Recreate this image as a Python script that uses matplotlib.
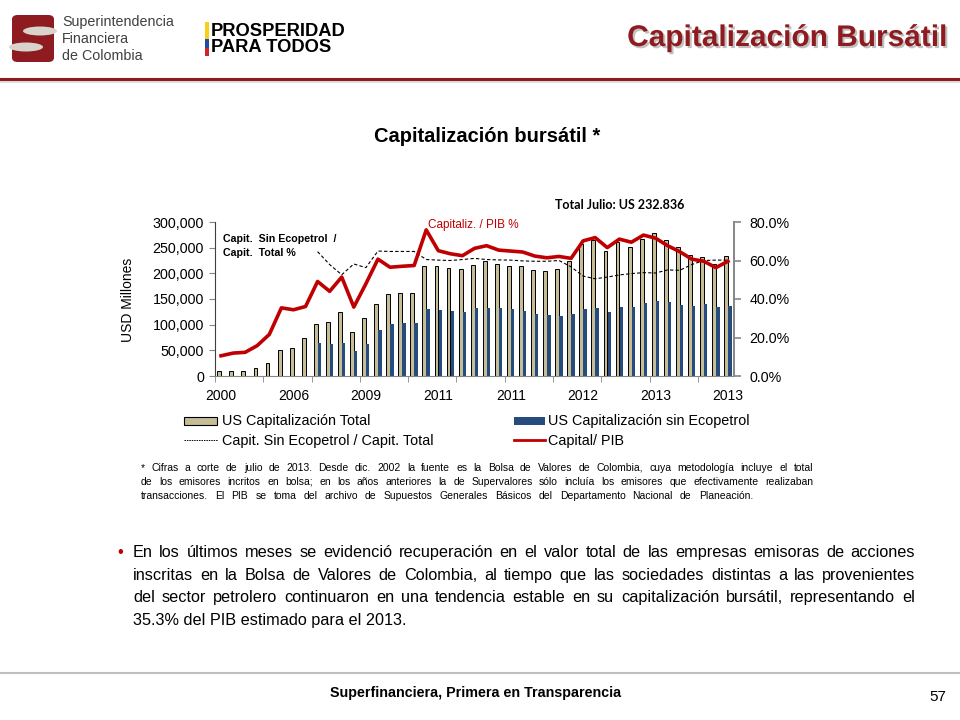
import numpy as np
import matplotlib
matplotlib.use('Agg')
import matplotlib.pyplot as plt
from matplotlib.patches import Rectangle, FancyBboxPatch, Ellipse
from matplotlib.lines import Line2D
import matplotlib.ticker as ticker
import matplotlib.patheffects as pe

#------------------------------------------------------------------------------
# DATA

# US Capitalización Total (USD millones)
cap_total = [10000, 10000, 10000, 15000, 25000, 50000, 55000, 74000, 102000, 106000,
             124000, 86000, 113000, 141000, 160000, 162000, 162000, 214000, 214000, 211000,
             208000, 217000, 225000, 218000, 214000, 214000, 206000, 204000, 208000, 224000,
             258000, 265000, 243000, 261000, 252000, 266000, 278000, 264000, 252000, 235000,
             231000, 218000, 232836]

# US Capitalización sin Ecopetrol (USD millones), no data before 2007
cap_sin_eco = [np.nan] * 8 + [65000, 61700, 64900, 48700, 62300, 90200, 101900, 103800, 103800, 129900,
               128000, 126000, 124700, 133100, 133000, 131800, 129900, 126600, 120800, 118800,
               117500, 120800, 130500, 133000, 124700, 135000, 135000, 141600, 146700, 144700,
               137700, 136400, 140300, 133800, 136400]

# Capit. Sin Ecopetrol / Capit. Total (%)
ratio_sin_eco = [np.nan] * 8 + [64.6, 57.9, 52.6, 58.2, 56.3, 64.9, 64.7, 64.7, 64.7, 60.5,
                 60.2, 60.0, 60.5, 61.1, 60.5, 60.3, 60.2, 59.8, 59.6, 59.6,
                 60.0, 56.7, 51.9, 50.5, 51.4, 52.5, 53.2, 53.7, 53.5, 55.1,
                 54.9, 57.9, 60.0, 60.2, 60.2]

# Capitalización / PIB (%)
cap_pib = [10.5, 11.9, 12.3, 15.8, 21.6, 35.4, 34.4, 36.1, 49.1, 44.0,
           51.4, 35.8, 47.9, 60.7, 56.5, 57.0, 57.4, 75.9, 65.1, 63.5,
           62.5, 66.3, 67.7, 65.4, 64.9, 64.4, 62.3, 61.4, 62.1, 61.1,
           70.2, 71.9, 66.7, 71.1, 69.5, 73.2, 71.6, 67.7, 64.6, 60.7,
           59.6, 56.3, 59.6]

# x tick labels (one every 6 periods)
tick_labels = ['2000', '2006', '2009', '2011', '2011', '2012', '2013', '2013']

bullet_lines = [
    'En los últimos meses se evidenció recuperación en el valor total de las empresas emisoras de acciones',
    'inscritas en la Bolsa de Valores de Colombia, al tiempo que las sociedades distintas a las provenientes',
    'del sector petrolero continuaron en una tendencia estable en su capitalización bursátil, representando el',
    '35.3% del PIB estimado para el 2013.',
]

note_lines = [
    '* Cifras a corte de julio  de 2013. Desde dic. 2002 la fuente es la Bolsa de Valores de Colombia, cuya metodología incluye el total',
    'de los emisores incritos en bolsa; en los años anteriores  la de Supervalores sólo incluía los emisores que efectivamente realizaban',
    'transacciones. El PIB se toma del archivo de Supuestos Generales Básicos del Departamento Nacional de Planeación.',
]

#------------------------------------------------------------------------------
# Colours

beige = '#C4BD97'
blue = '#264C7E'
red = '#C00000'
maroon = '#8E1B1F'
grey_axis = '#868686'

plt.rcParams['font.family'] = ['Liberation Sans', 'DejaVu Sans']

W, H = 960, 720
fig = plt.figure(figsize=(9.6, 7.2), dpi=100)

def fx(x):
    return x / W

def fy(y):
    return 1 - y / H

def ptext(x, y, s, **kw):
    return fig.text(fx(x), fy(y), s, **kw)

renderer = fig.canvas.get_renderer()

def justify(x0, x1, y, line, **kw):
    # spread the words of one line between x0 and x1 (pixels), y = baseline
    words = line.split()
    widths = []
    for w in words:
        t = ptext(0, 0, w, **kw)
        widths.append(t.get_window_extent(renderer).width)
        t.remove()
    gap = (x1 - x0 - sum(widths)) / max(len(words) - 1, 1)
    x = x0
    for w, wd in zip(words, widths):
        ptext(x, y, w, ha='left', va='baseline', **kw)
        x += wd + gap

#------------------------------------------------------------------------------
# HEADER

# Superintendencia logo (rough shape)
fig.patches.append(FancyBboxPatch((fx(12), fy(62)), fx(42), 47 / H, boxstyle='round,pad=0,rounding_size=0.006',
                                  transform=fig.transFigure, fc=maroon, ec='none'))
fig.patches.append(Ellipse((fx(40), fy(31)), fx(34), 9 / H, transform=fig.transFigure, fc='#D8D4CC', ec='none'))
fig.patches.append(Ellipse((fx(26), fy(47)), fx(34), 9 / H, transform=fig.transFigure, fc='#D8D4CC', ec='none'))
ptext(62, 22, 'Superintendencia', fontsize=10.3, color='#404040', va='center')
ptext(62, 39, 'Financiera', fontsize=10.3, color='#404040', va='center')
ptext(62, 56, 'de Colombia', fontsize=10.3, color='#404040', va='center')

# Prosperidad para todos logo
fig.patches.append(Rectangle((fx(205), fy(39)), fx(4), 17 / H, transform=fig.transFigure, fc='#F7D117', ec='none'))
fig.patches.append(Rectangle((fx(205), fy(48)), fx(4), 9 / H, transform=fig.transFigure, fc='#1F4E9C', ec='none'))
fig.patches.append(Rectangle((fx(205), fy(56)), fx(4), 8 / H, transform=fig.transFigure, fc='#D2232A', ec='none'))
ptext(211, 31, 'PROSPERIDAD', fontsize=13.2, fontweight='bold', va='center')
ptext(211, 47, 'PARA TODOS', fontsize=13.2, fontweight='bold', va='center')

# Title with shadow
ptext(948, 38, 'Capitalización Bursátil', fontsize=21.5, fontweight='bold', color=maroon,
      ha='right', va='center',
      path_effects=[pe.withSimplePatchShadow(offset=(1.5, -1.5), shadow_rgbFace='#999999', alpha=0.6)])

fig.add_artist(Line2D([0, 1], [fy(81), fy(81)], color='#DDDDDD', lw=2))
fig.add_artist(Line2D([0, 1], [fy(79), fy(79)], color=maroon, lw=2.2))

#------------------------------------------------------------------------------
# CHART

ptext(487, 137, 'Capitalización bursátil *', fontsize=14.5, fontweight='bold', ha='center', va='center')

ax = fig.add_axes([fx(215), fy(376), fx(734 - 215), (376 - 222) / H])
ax2 = ax.twinx()

x = np.arange(len(cap_total)) + 0.5
ax.bar(x - 0.15, cap_total, 0.32, color=beige, ec='black', lw=0.7, zorder=2)
ax.bar(x + 0.16, cap_sin_eco, 0.28, color=blue, ec='none', zorder=2)

ax2.plot(x, ratio_sin_eco, color='black', lw=0.8, ls=(0, (3, 2)), zorder=3)
ax2.plot(x, cap_pib, color=red, lw=2.6, solid_joinstyle='round', zorder=4)

ax.set_xlim(0, len(cap_total))
ax.set_ylim(0, 300000)
ax2.set_ylim(0, 80)

ax.yaxis.set_major_locator(ticker.MultipleLocator(50000))
ax.yaxis.set_major_formatter(ticker.FuncFormatter(lambda v, p: '{:,.0f}'.format(v)))
ax2.yaxis.set_major_locator(ticker.MultipleLocator(20))
ax2.yaxis.set_major_formatter(ticker.FuncFormatter(lambda v, p: '{:.1f}%'.format(v)))

ax.set_xticks(x[::6])
ax.set_xticklabels(tick_labels)
ax.xaxis.set_minor_locator(ticker.MultipleLocator(4))
ax.tick_params(axis='x', which='major', length=0, labelsize=10, pad=9)
ax.tick_params(axis='x', which='minor', length=4, color=grey_axis, direction='out')
ax.tick_params(axis='y', labelsize=10.3, length=4, color=grey_axis, pad=4)
ax2.tick_params(axis='y', labelsize=10.3, length=5, color=grey_axis, width=1.2, pad=6)

for a in (ax, ax2):
    a.spines['top'].set_visible(False)
    a.patch.set_visible(False)
ax.spines['right'].set_visible(False)
ax.spines['left'].set_color('#404040')
ax.spines['left'].set_linewidth(0.8)
ax.spines['bottom'].set_color(grey_axis)
ax2.spines['left'].set_visible(False)
ax2.spines['bottom'].set_visible(False)
ax2.spines['right'].set_color(grey_axis)
ax2.spines['right'].set_linewidth(1.4)

ptext(128, 300, 'USD Millones', fontsize=10, rotation=90, ha='center', va='center')

# annotations
ptext(620, 205, 'Total Julio: US 232.836', fontsize=9, fontweight='bold', ha='center', va='center',
      family=['Lato', 'DejaVu Sans'])
ptext(428, 225, 'Capitaliz. / PIB %', fontsize=8.5, color=red, ha='left', va='center')
ptext(223, 239, 'Capit.  Sin Ecopetrol  /', fontsize=7.7, fontweight='bold', ha='left', va='center')
ptext(223, 253, 'Capit.  Total %', fontsize=7.7, fontweight='bold', ha='left', va='center')

# legend
fig.patches.append(Rectangle((fx(184), fy(425)), fx(33), 8 / H, transform=fig.transFigure,
                             fc=beige, ec='black', lw=0.8))
ptext(222, 421, 'US Capitalización Total', fontsize=10.4, ha='left', va='center')
fig.patches.append(Rectangle((fx(514), fy(425)), fx(31), 8 / H, transform=fig.transFigure,
                             fc=blue, ec='none'))
ptext(548, 421, 'US Capitalización sin Ecopetrol', fontsize=10.4, ha='left', va='center')
fig.add_artist(Line2D([fx(184), fx(218)], [fy(440), fy(440)], color='black', lw=0.7, ls=(0, (1.5, 1))))
ptext(222, 441, 'Capit. Sin Ecopetrol / Capit. Total', fontsize=10.4, ha='left', va='center')
fig.add_artist(Line2D([fx(514), fx(545)], [fy(440), fy(440)], color=red, lw=2))
ptext(548, 441, 'Capital/ PIB', fontsize=10.4, ha='left', va='center')

# footnote (baselines)
justify(141, 813, 471, note_lines[0], fontsize=7.5)
justify(141, 813, 485, note_lines[1], fontsize=7.5)
justify(141, 753, 499, note_lines[2], fontsize=7.5)

#------------------------------------------------------------------------------
# BULLET TEXT (baselines)

ptext(117, 557, '•', fontsize=12, color=red, ha='left', va='baseline')
for i, line in enumerate(bullet_lines):
    yy = 557 + i * 22.7
    if i < len(bullet_lines) - 1:
        justify(133, 915, yy, line, fontsize=11.7)
    else:
        ptext(133, yy, line, fontsize=11.7, ha='left', va='baseline')

#------------------------------------------------------------------------------
# FOOTER

fig.add_artist(Line2D([0, 1], [fy(673), fy(673)], color='#BFBFBF', lw=1.5))
ptext(476, 693, 'Superfinanciera, Primera en Transparencia', fontsize=10.3, fontweight='bold',
      ha='center', va='center')
ptext(938, 697, '57', fontsize=11, ha='center', va='center')

fig.savefig('out.png', dpi=100)
